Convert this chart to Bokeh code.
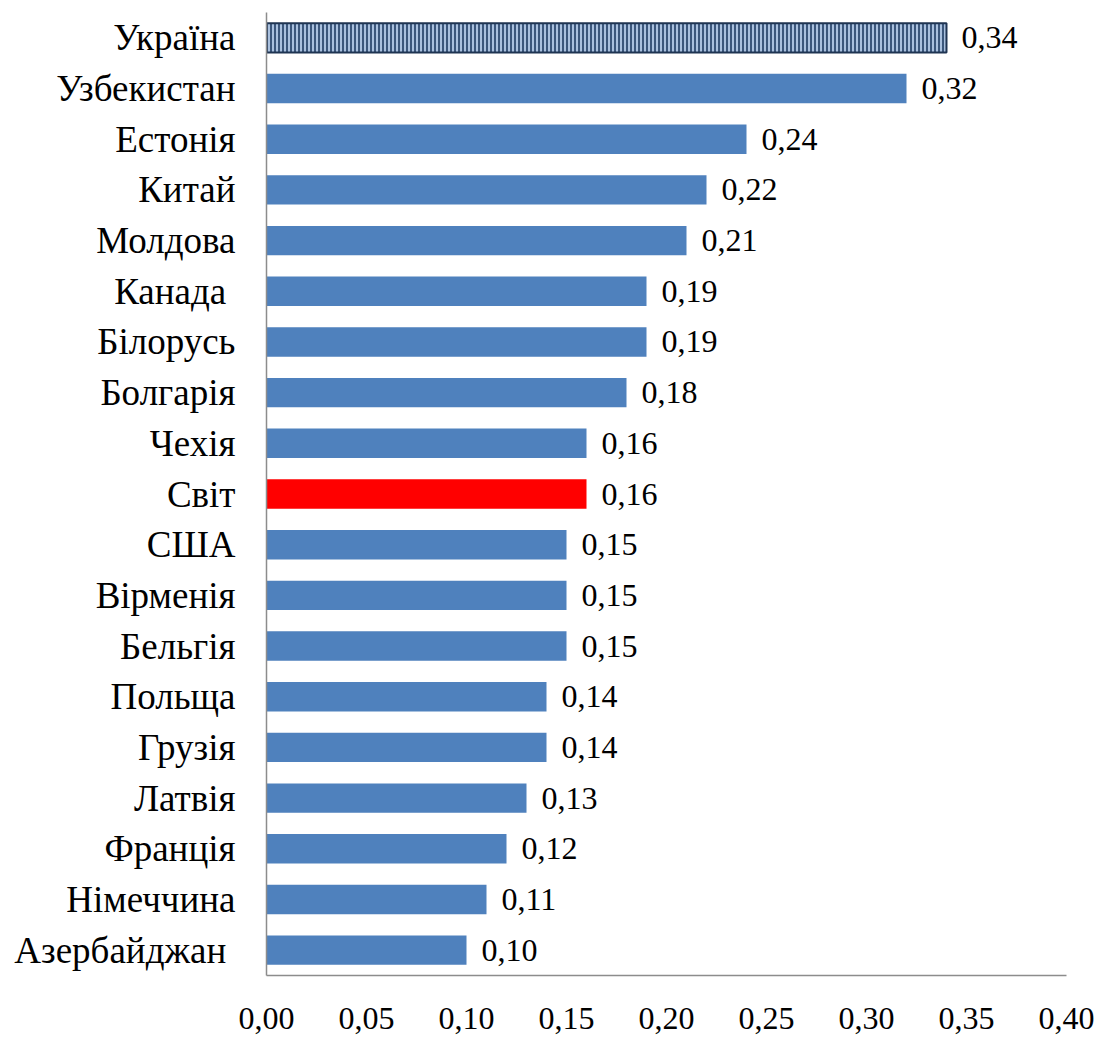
from bokeh.plotting import figure
from bokeh.models import ColumnDataSource, FactorRange, Range1d, FixedTicker, CustomJSTickFormatter
from bokeh.embed import file_html
from bokeh.resources import INLINE
from bokeh.core.properties import value

countries = ["Україна", "Узбекистан", "Естонія", "Китай", "Молдова", "Канада ", "Білорусь",
             "Болгарія", "Чехія", "Світ", "США", "Вірменія", "Бельгія", "Польща", "Грузія",
             "Латвія", "Франція", "Німеччина", "Азербайджан "]
values = [0.34, 0.32, 0.24, 0.22, 0.21, 0.19, 0.19, 0.18, 0.16, 0.16, 0.15, 0.15, 0.15,
          0.14, 0.14, 0.13, 0.12, 0.11, 0.10]
x_ticks = [0.0, 0.05, 0.10, 0.15, 0.20, 0.25, 0.30, 0.35, 0.40]

BLUE = "#4F81BD"
RED = "#FF0000"
FONT = "Liberation Serif"

colors = [RED if c == "Світ" else BLUE for c in countries]
labels = [f"{v:.2f}".replace(".", ",") for v in values]

src = ColumnDataSource(dict(y=countries, x=values, color=colors, label=labels))
main = ColumnDataSource(dict(y=countries[1:], x=values[1:], color=colors[1:], label=labels[1:]))
ukr = ColumnDataSource(dict(y=countries[:1], x=values[:1]))

p = figure(width=1097, height=1037, output_backend="svg", toolbar_location=None,
           y_range=FactorRange(factors=countries[::-1], range_padding=0),
           x_range=Range1d(0, 0.40),
           min_border_left=266, min_border_right=31, min_border_top=12, min_border_bottom=62)
p.outline_line_color = None
p.xgrid.visible = False
p.ygrid.visible = False

p.hbar(y="y", right="x", left=0, height=0.58, source=main, fill_color="color", line_color=None)
p.hbar(y="y", right="x", left=0, height=0.58, source=ukr, fill_color="#A9C0DE",
       line_color="#1F3452", line_width=2, hatch_pattern="vertical_line",
       hatch_color="#2E4A70", hatch_scale=4, hatch_weight=1.8)

p.text(x="x", y="y", text="label", source=src, x_offset=15, text_align="left",
       text_baseline="middle", text_font=value(FONT), text_font_size="32px", text_color="black")

p.xaxis.ticker = FixedTicker(ticks=x_ticks)
p.xaxis.formatter = CustomJSTickFormatter(code="return tick.toFixed(2).replace('.', ',');")
p.xaxis.major_tick_line_color = None
p.xaxis.minor_tick_line_color = None
p.xaxis.axis_line_color = "#8C8C8C"
p.xaxis.axis_line_width = 1.5
p.xaxis.major_label_standoff = 26
p.xaxis.major_label_text_font = FONT
p.xaxis.major_label_text_font_size = "32px"
p.xaxis.major_label_text_color = "black"

p.yaxis.major_tick_line_color = None
p.yaxis.minor_tick_line_color = None
p.yaxis.axis_line_color = "#8C8C8C"
p.yaxis.axis_line_width = 1.5
p.yaxis.major_label_standoff = 25
p.yaxis.major_label_text_font = FONT
p.yaxis.major_label_text_font_size = "37px"
p.yaxis.major_label_text_color = "black"

open("out.html", "w").write(file_html(p, INLINE))
